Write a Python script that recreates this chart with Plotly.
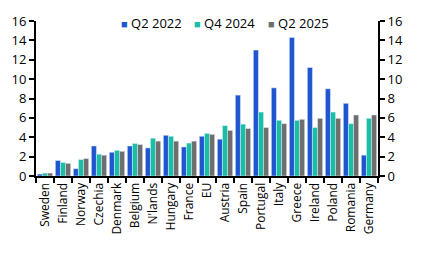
import plotly.graph_objects as go

categories = ["Sweden", "Finland", "Norway", "Czechia", "Denmark", "Belgium", "N'lands",
              "Hungary", "France", "EU", "Austria", "Spain", "Portugal", "Italy", "Greece",
              "Ireland", "Poland", "Romania", "Germany"]
q2_2022 = [0.2, 1.6, 0.75, 3.1, 2.45, 3.1, 2.9, 4.2, 3.0, 4.1, 3.8, 8.35, 13.0, 9.1, 14.3, 11.2, 9.0, 7.5, 2.15]
q4_2024 = [0.3, 1.4, 1.7, 2.25, 2.65, 3.35, 3.9, 4.1, 3.4, 4.4, 5.2, 5.35, 6.6, 5.75, 5.75, 5.0, 6.6, 5.4, 5.95]
q2_2025 = [0.3, 1.3, 1.8, 2.15, 2.55, 3.25, 3.6, 3.6, 3.6, 4.3, 4.7, 4.9, 5.0, 5.4, 5.85, 5.95, 5.95, 6.3, 6.3]
series_names = ["Q2 2022", "Q4 2024", "Q2 2025"]
colors = ["#1f55d0", "#17bfa8", "#6e6e6e"]
tick_vals = [0, 2, 4, 6, 8, 10, 12, 14, 16]

# layout constants
W, H = 443, 254
ML, MR, MT, MB = 32, 65, 12, 78
legend_px = [116, 190, 265]   # left edge of each legend entry (pixels)
legend_py = 14                # vertical centre of legend (pixels)

font_family = "Open Sans"
fig = go.Figure()
for name, vals, col in zip(series_names, [q2_2022, q4_2024, q2_2025], colors):
    fig.add_trace(go.Bar(x=categories, y=vals, name=name, marker_color=col, showlegend=False))
# dummy trace to show right axis
fig.add_trace(go.Scatter(x=[categories[0]], y=[0], yaxis="y2", mode="markers",
                         marker=dict(opacity=0), showlegend=False, hoverinfo="skip"))

plot_w = W - ML - MR
plot_h = H - MT - MB
for name, col, px in zip(series_names, colors, legend_px):
    fig.add_annotation(
        xref="paper", yref="paper", x=(px - ML) / plot_w,
        y=(H - MB - legend_py) / plot_h, xanchor="left", yanchor="middle",
        showarrow=False, font=dict(size=13, color="black"),
        text=f'<span style="color:{col};font-size:11px">■</span> {name}')

axis_common = dict(showline=True, linecolor="black", linewidth=2, ticks="outside",
                   ticklen=5, tickwidth=1.5, tickcolor="black", showgrid=False,
                   tickfont=dict(size=13))
fig.update_layout(
    width=W, height=H,
    margin=dict(l=ML, r=MR, t=MT, b=MB),
    paper_bgcolor="white", plot_bgcolor="white",
    barmode="group", bargap=0.15, bargroupgap=0,
    font=dict(family=font_family, size=13, color="black"),
    showlegend=False,
    xaxis=dict(tickson="boundaries", tickangle=-90, range=[-0.5, len(categories) - 0.5],
               **{**axis_common, "tickfont": dict(size=12)}),
    yaxis=dict(range=[0, 16], tickvals=tick_vals, zeroline=False, **axis_common),
    yaxis2=dict(range=[0, 16], tickvals=tick_vals, overlaying="y", side="right",
                zeroline=False, **axis_common),
)
fig.write_html("out.html")
